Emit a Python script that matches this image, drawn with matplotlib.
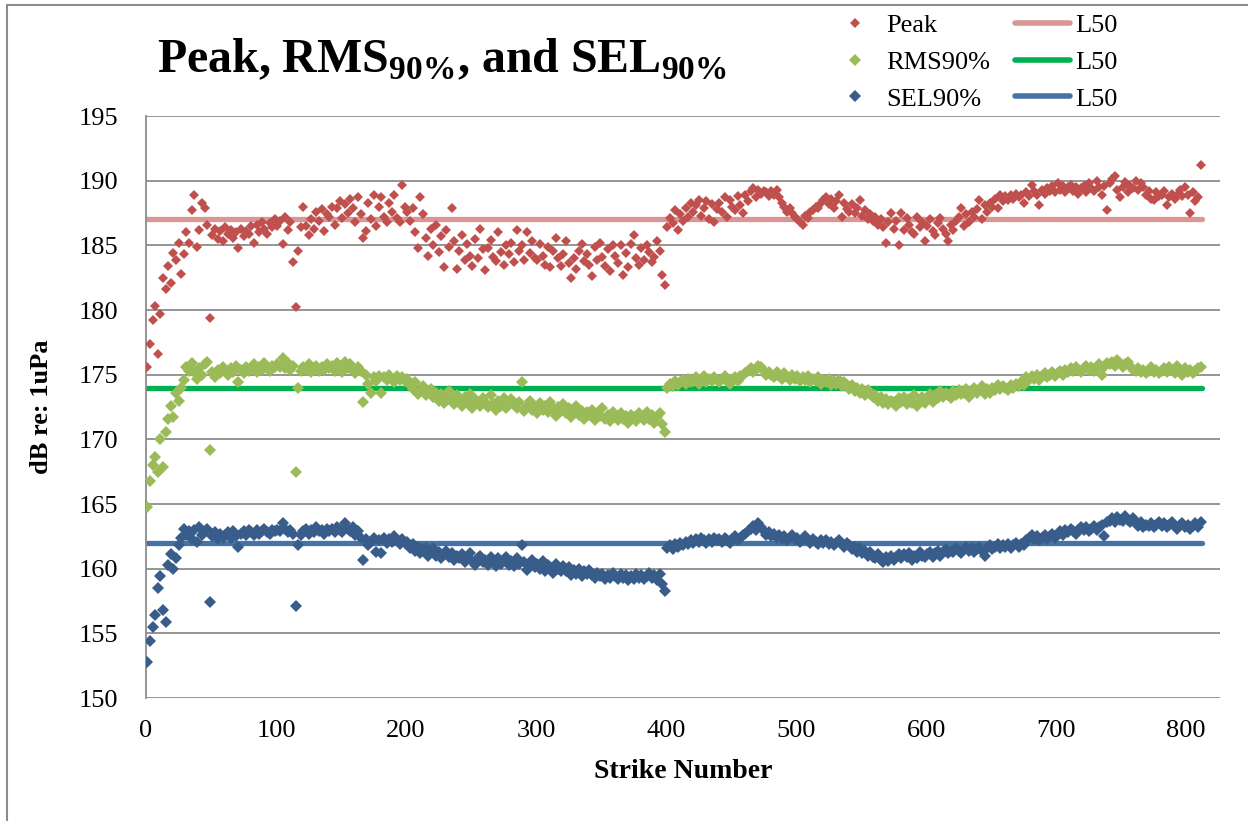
import numpy as np
import matplotlib
matplotlib.use("Agg")
import matplotlib.pyplot as plt
from matplotlib.lines import Line2D
from matplotlib.patches import Rectangle

plt.rcParams['font.family'] = ['Liberation Serif', 'DejaVu Serif']
plt.rcParams['mathtext.fontset'] = 'custom'
plt.rcParams['mathtext.rm'] = 'Liberation Serif:bold'
plt.rcParams['mathtext.bf'] = 'Liberation Serif:bold'

# strike numbers (every other strike)
strikes = np.arange(1, 812, 2)

peak = [
    175.6, 177.4, 179.2, 180.3, 176.6, 179.7, 182.5, 181.6, 183.4, 182.1,
    184.4, 183.9, 185.2, 182.8, 184.3, 186.0, 185.2, 187.7, 188.9, 184.9,
    186.2, 188.3, 187.9, 186.6, 179.4, 185.8, 186.3, 185.5, 186.1, 185.3,
    186.4, 185.9, 186.2, 185.6, 186.0, 184.8, 186.3, 185.7, 186.1, 185.9,
    186.5, 185.2, 186.6, 186.0, 186.8, 186.3, 185.9, 186.7, 186.4, 187.0,
    186.5, 186.9, 185.1, 187.2, 186.2, 186.8, 183.7, 180.2, 184.6, 186.4,
    188.0, 186.5, 185.8, 187.0, 186.3, 187.6, 186.9, 187.8, 186.1, 187.4,
    187.2, 188.0, 186.6, 187.9, 188.4, 187.1, 188.2, 187.5, 188.6, 187.9,
    186.8, 188.7, 187.4, 185.6, 186.1, 188.3, 187.0, 188.9, 186.5, 188.0,
    188.7, 187.2, 186.8, 188.3, 187.6, 188.9, 187.1, 186.8, 189.7, 188.0,
    187.6, 186.9, 187.9, 186.0, 184.8, 188.7, 187.4, 185.6, 184.2, 186.3,
    185.0, 186.6, 184.5, 185.7, 183.3, 186.2, 184.9, 187.9, 185.3, 183.2,
    184.6, 185.8, 183.9, 185.1, 184.2, 183.4, 185.5, 184.0, 186.3, 184.7,
    183.1, 184.8, 185.4, 184.1, 183.8, 186.0, 184.5, 183.5, 185.0, 184.3,
    185.2, 183.7, 186.2, 184.6, 185.0, 183.9, 186.0, 184.4, 185.3, 184.0,
    183.9, 185.1, 184.2, 183.5, 184.9, 183.3, 184.6, 185.6, 184.0, 183.4,
    184.3, 185.3, 183.6, 182.5, 184.0, 183.2, 184.6, 185.1, 183.8, 184.3,
    183.5, 182.6, 184.9, 183.9, 185.2, 184.1, 183.4, 184.7, 183.0, 185.0,
    184.2, 183.6, 185.0, 182.7, 184.4, 183.3, 185.1, 185.8, 184.0, 183.5,
    184.8, 183.9, 185.0, 184.5, 183.7, 184.1, 185.3, 184.6, 182.7, 181.9,
    186.4, 187.1, 186.7, 187.7, 186.2, 187.4, 186.9, 187.9, 187.2, 188.3,
    187.6, 188.1, 188.5, 187.3, 187.9, 188.4, 187.0, 188.2, 186.8, 187.8,
    188.3, 187.6, 188.7, 187.2, 188.5, 188.0, 187.7, 188.8, 188.1, 187.5,
    188.9, 188.4, 189.2, 189.4, 188.7, 189.3, 189.0, 189.2, 189.1, 188.8,
    189.2, 188.9, 189.3, 188.7, 188.3, 188.0, 187.6, 187.9, 187.5, 187.2,
    187.0, 186.8, 186.6, 187.3, 187.1, 187.6, 187.7, 188.0, 187.9, 188.3,
    188.5, 188.7, 188.2, 188.6, 187.9, 188.4, 188.9, 187.2, 188.3, 187.8,
    187.6, 188.2, 187.5, 187.9, 188.5, 187.3, 187.7, 187.0, 187.4, 186.9,
    187.2, 186.6, 187.0, 186.4, 185.2, 186.8, 187.5, 186.3, 186.9, 185.0,
    187.5, 186.2, 187.1, 186.6, 186.0, 185.9, 187.2, 186.4, 186.8, 185.3,
    186.5, 187.0, 186.1, 185.8, 186.7, 187.1, 186.3, 185.9, 185.3, 186.6,
    186.2, 186.9, 187.2, 187.9, 186.5, 187.4, 186.8, 187.6, 187.2, 187.8,
    188.5, 187.0, 188.1, 187.6, 188.3, 188.0, 188.6, 187.9, 188.9, 188.4,
    188.8, 188.5, 188.9, 188.6, 189.0, 188.7, 188.9, 188.3, 189.1, 188.8,
    189.7, 189.2, 188.9, 188.1, 189.3, 189.0, 189.4, 189.2, 189.6, 189.1,
    189.8, 189.3, 189.6, 189.1, 189.5, 189.7, 189.2, 189.5, 189.0, 189.4,
    189.6, 189.1, 189.8, 189.4, 189.2, 190.0, 189.5, 188.9, 189.6, 187.7,
    189.8, 190.1, 190.4, 189.3, 188.7, 189.5, 189.9, 189.1, 189.6, 189.4,
    190.0, 189.3, 189.8, 189.5, 188.9, 189.2, 188.6, 188.5, 189.1, 188.8,
    188.9, 189.2, 188.1, 188.7, 189.0, 188.6, 188.9, 189.3, 188.8, 189.5,
    188.9, 187.5, 189.1, 188.4, 188.7, 191.2,
]

rms90 = [
    164.8, 166.8, 168.0, 168.6, 167.5, 170.0, 167.9, 170.6, 171.6, 172.6,
    171.7, 173.6, 173.0, 174.0, 174.6, 175.6, 175.3, 175.9, 175.2, 174.7,
    175.5, 175.0, 175.8, 176.0, 169.2, 175.2, 174.8, 175.4, 175.1, 175.6,
    175.3, 175.0, 175.5, 175.2, 175.7, 174.4, 175.4, 175.1, 175.6, 175.3,
    175.5, 175.8, 175.2, 175.6, 175.4, 175.9, 175.5, 175.3, 175.7, 175.6,
    175.8, 175.6, 176.3, 175.5, 175.9, 175.4, 175.7, 167.5, 174.0, 175.3,
    175.6, 175.4, 175.8, 175.2, 175.5, 175.7, 175.3, 175.6, 175.4, 175.8,
    175.5, 175.7, 175.3, 175.9, 175.6, 175.2, 176.0, 175.5, 175.8, 175.4,
    175.1, 175.6, 175.3, 172.9, 175.0, 174.3, 173.6, 174.8, 174.5, 174.9,
    173.6, 174.8, 174.6, 175.0, 174.7, 174.4, 174.9, 174.6, 174.8, 174.5,
    174.7, 174.2, 173.9, 174.4, 173.5, 173.8, 174.1, 173.4, 173.7, 173.9,
    173.3, 173.6, 173.0, 173.5, 172.8, 173.3, 173.7, 173.1, 172.7, 173.4,
    173.0, 172.6, 173.3, 172.9, 173.5, 172.4, 173.1, 172.8, 172.6, 173.2,
    172.9, 172.5, 173.4, 172.7, 172.3, 173.0, 172.6, 173.2, 172.4, 172.9,
    173.1, 172.7, 172.4, 172.9, 174.4, 172.2, 172.6, 173.0, 172.3, 172.5,
    172.0, 172.8, 172.3, 172.6, 172.1, 172.9, 172.4, 171.8, 172.5, 172.2,
    172.7, 172.0, 172.4, 171.7, 172.3, 172.6, 171.9, 172.2, 171.6, 172.1,
    171.9, 172.3, 171.5, 172.0, 171.8, 172.4, 171.6, 171.9, 171.4, 172.1,
    171.7, 171.5, 172.0, 171.6, 171.8, 171.3, 171.9, 171.7, 171.4, 172.0,
    171.8, 171.5, 172.1, 171.6, 171.9, 171.3, 171.7, 172.0, 171.2, 170.6,
    174.0, 174.3, 174.1, 174.5, 174.2, 174.4, 174.6, 174.3, 174.7, 174.4,
    174.5, 174.8, 174.3, 174.6, 174.9, 174.4, 174.7, 174.5, 174.8, 174.6,
    174.4, 174.7, 174.9, 174.5, 174.3, 174.6, 174.8, 174.5, 174.9, 175.0,
    175.1, 175.3, 175.5, 175.2, 175.4, 175.7, 175.6, 175.3, 175.0, 175.2,
    175.0, 174.8, 175.2, 174.9, 174.7, 175.1, 174.8, 174.6, 175.0, 174.7,
    174.9, 174.5, 174.8, 174.6, 174.9, 174.4, 174.7, 174.5, 174.8, 174.3,
    174.6, 174.4, 174.7, 174.2, 174.5, 174.3, 174.6, 174.1, 174.4, 174.2,
    173.9, 174.2, 173.7, 174.0, 173.6, 173.9, 173.4, 173.8, 173.5, 173.3,
    173.4, 173.0, 173.3, 172.8, 173.1, 172.7, 173.0, 172.9, 172.6, 173.2,
    172.9, 173.3, 172.7, 173.1, 172.8, 173.4, 172.6, 173.0, 173.3, 172.8,
    173.1, 173.5, 172.9, 173.4, 173.2, 173.7, 173.3, 173.6, 173.4, 173.2,
    173.7, 173.4, 173.8, 173.5, 173.6, 173.9, 173.3, 173.7, 174.0, 173.6,
    173.8, 174.1, 173.5, 173.9, 173.6, 174.0, 173.8, 174.2, 173.9, 174.1,
    174.0, 173.8, 174.2, 174.0, 174.3, 174.1, 174.4, 174.2, 174.8, 174.6,
    174.9, 174.7, 175.0, 174.6, 174.9, 175.1, 174.8, 175.0, 175.2, 174.9,
    175.1, 175.3, 175.0, 175.4, 175.2, 175.5, 175.3, 175.6, 175.4, 175.2,
    175.5, 175.7, 175.4, 175.6, 175.3, 175.5, 175.8, 175.0, 175.6, 175.9,
    175.8, 176.0, 175.7, 176.1, 175.9, 175.6, 175.8, 176.0, 175.7, 175.4,
    175.3, 175.5, 175.2, 175.4, 175.1, 175.3, 175.6, 175.2, 175.4, 175.1,
    175.3, 175.5, 175.2, 175.6, 175.4, 175.1, 175.7, 175.3, 175.0, 175.5,
    175.2, 175.4, 175.1, 175.3, 175.5, 175.6,
]

sel90 = [
    152.8, 154.4, 155.5, 156.4, 158.5, 159.4, 156.8, 155.9, 160.3, 161.1,
    160.0, 160.8, 161.8, 162.4, 163.1, 162.6, 162.9, 162.3, 163.0, 162.1,
    163.2, 162.6, 162.9, 163.1, 157.4, 162.5, 162.8, 162.3, 162.7, 162.4,
    162.6, 162.8, 162.4, 162.9, 162.5, 161.7, 162.7, 162.9, 162.6, 163.0,
    162.8, 162.6, 163.0, 162.7, 162.9, 163.1, 162.8, 162.7, 163.0, 162.9,
    163.0, 162.9, 163.5, 163.1, 162.8, 163.0, 162.7, 157.1, 161.8, 162.6,
    162.9, 163.1, 162.7, 163.0, 162.8, 163.2, 162.9, 163.0, 162.7, 163.1,
    162.9, 163.1, 162.8, 163.2, 163.0, 162.8, 163.5, 163.1, 162.9, 163.2,
    162.6, 162.9, 162.4, 160.7, 162.3, 161.8, 162.1, 162.4, 161.3, 162.2,
    161.2, 162.4, 162.0, 162.3, 162.1, 162.5, 162.2, 161.9, 162.3, 162.0,
    162.1, 161.6, 161.9, 161.4, 161.7, 161.2, 161.5, 161.6, 161.0, 161.3,
    161.6, 161.0, 161.3, 160.8, 161.1, 161.4, 160.9, 161.2, 160.7, 161.0,
    160.8, 161.1, 160.5, 160.9, 161.2, 160.6, 160.3, 160.8, 161.0, 160.5,
    160.7, 160.3, 160.9, 160.5, 160.2, 160.8, 160.4, 160.6, 160.9, 160.3,
    160.6, 160.2, 160.8, 160.4, 161.8, 160.5, 159.9, 160.3, 160.7, 160.1,
    160.4, 160.0, 160.6, 159.8, 160.3, 160.1, 159.7, 160.4, 160.0, 159.8,
    160.2, 159.8, 160.1, 159.5, 159.9, 159.6, 160.0, 159.4, 159.8, 159.6,
    159.9, 159.5, 159.3, 159.7, 159.4, 159.6, 159.2, 159.5, 159.3, 159.7,
    159.4, 159.2, 159.6, 159.3, 159.5, 159.1, 159.4, 159.2, 159.6, 159.3,
    159.5, 159.2, 159.4, 159.7, 159.3, 159.5, 159.1, 159.6, 158.8, 158.3,
    161.6, 161.8, 161.5, 161.9, 161.7, 162.0, 161.8, 162.1, 161.9, 162.2,
    162.0, 162.3, 162.1, 162.4, 162.2, 162.0, 162.3, 162.1, 162.4, 162.2,
    162.3, 162.1, 162.4, 162.2, 162.0, 162.3, 162.5, 162.2, 162.4, 162.6,
    162.7, 162.9, 163.1, 163.3, 163.0, 163.5, 163.2, 162.9, 162.6, 162.8,
    162.5, 162.7, 162.4, 162.6, 162.3, 162.5, 162.2, 162.4, 162.6, 162.3,
    162.4, 162.1, 162.3, 162.5, 162.2, 162.0, 162.3, 162.1, 161.9, 162.2,
    162.0, 162.2, 161.9, 162.1, 161.8, 162.0, 162.2, 161.9, 161.7, 162.0,
    161.8, 161.5, 161.7, 161.3, 161.6, 161.2, 161.4, 161.0, 161.3, 160.9,
    160.8, 161.1, 160.7, 160.5, 160.9, 160.6, 161.0, 160.7, 160.9, 161.1,
    160.8, 161.1, 160.9, 161.2, 160.7, 161.0, 160.8, 161.3, 161.0, 160.9,
    161.1, 161.3, 160.9, 161.2, 161.4, 161.0, 161.3, 161.5, 161.2, 161.4,
    161.3, 161.6, 161.4, 161.2, 161.5, 161.7, 161.4, 161.6, 161.3, 161.5,
    161.7, 161.4, 161.0, 161.6, 161.8, 161.5, 161.7, 161.9, 161.6, 161.8,
    161.7, 161.9, 161.6, 161.8, 162.0, 161.7, 161.9, 161.8, 162.2, 162.4,
    162.6, 162.3, 162.5, 162.2, 162.4, 162.6, 162.3, 162.5, 162.7, 162.4,
    162.7, 162.9, 162.6, 163.0, 162.8, 163.1, 162.9, 162.7, 163.0, 163.2,
    163.0, 163.2, 162.9, 163.1, 163.3, 163.0, 163.2, 163.4, 162.5, 163.6,
    163.7, 163.9, 163.6, 164.0, 163.8, 163.7, 164.1, 163.8, 163.6, 163.9,
    163.5, 163.3, 163.6, 163.2, 163.4, 163.3, 163.5, 163.2, 163.4, 163.6,
    163.3, 163.5, 163.2, 163.4, 163.6, 163.3, 163.1, 163.4, 163.5, 163.2,
    163.4, 163.1, 163.3, 163.5, 163.2, 163.6,
]

# L50 levels
l50_peak = 187
l50_rms = 174
l50_sel = 162
l50_span = [0, 812]

PEAK_C, RMS_C, SEL_C = "#C0504D", "#9BBB59", "#385D8A"
L50_C = ["#D99694", "#00B050", "#4672A8"]

fig = plt.figure(figsize=(12.48, 8.21), dpi=100)
ax = fig.add_axes([0.117, 0.1498, 0.8606, 0.7089])

ax.plot(l50_span, [l50_peak] * 2, color=L50_C[0], lw=3.8, solid_capstyle="round", zorder=2)
ax.plot(l50_span, [l50_rms] * 2, color=L50_C[1], lw=3.8, solid_capstyle="round", zorder=2)
ax.plot(l50_span, [l50_sel] * 2, color=L50_C[2], lw=3.8, solid_capstyle="round", zorder=2)

ax.plot(strikes, peak, ls="none", marker="D", ms=5.4, mew=0, color=PEAK_C, zorder=3)
ax.plot(strikes, rms90, ls="none", marker="D", ms=5.8, mew=0, color=RMS_C, zorder=3)
ax.plot(strikes, sel90, ls="none", marker="D", ms=6.6, mew=0, color=SEL_C, zorder=3)

ax.set_xlim(0, 826)
ax.set_ylim(150, 195)
ax.set_xticks(range(0, 801, 100))
ax.set_yticks(range(150, 196, 5))
ax.tick_params(length=0, labelsize=19)
ax.tick_params(axis="x", pad=16)
ax.tick_params(axis="y", pad=20)
ax.grid(axis="y", color="#8C8C8C", lw=1.3)
ax.set_axisbelow(True)
for s in ["top", "right", "bottom"]:
    ax.spines[s].set_visible(False)
ax.spines["left"].set_color("#8C8C8C")
ax.spines["left"].set_linewidth(1.3)

ax.set_xlabel("Strike Number", fontsize=20, fontweight="bold")
ax.xaxis.set_label_coords(0.5, -0.105)
ax.set_ylabel("dB re: 1uPa", fontsize=19, fontweight="bold")
ax.yaxis.set_label_coords(-0.087, 0.5)

fig.text(157 / 1248, 1 - 72 / 821,
         r"Peak, RMS$_{90\%}$, and SEL$_{90\%}$",
         fontsize=34.5, fontweight="bold", va="baseline", ha="left")

# legend: markers in one column, L50 lines in another
mk = [Line2D([], [], ls="none", marker="D", ms=m, mew=0, color=c)
      for c, m in [(PEAK_C, 5.4), (RMS_C, 5.8), (SEL_C, 6.6)]]
fig.legend(mk, ["Peak", "RMS90%", "SEL90%"], loc="upper left",
           bbox_to_anchor=(818 / 1248, 1 + 10 / 821), frameon=False,
           fontsize=19, handlelength=1.0, handletextpad=0.68, labelspacing=0.5)
ln = [Line2D([], [], color=c, lw=4, solid_capstyle="round") for c in L50_C]
fig.legend(ln, ["L50", "L50", "L50"], loc="upper left",
           bbox_to_anchor=(991 / 1248, 1 + 10 / 821), frameon=False,
           fontsize=19, handlelength=2.08, handletextpad=0.2, labelspacing=0.5)

# chart border
fig.patches.append(Rectangle((7 / 1248, -0.05), 1.2, 1 - 5 / 821 + 0.05,
                             transform=fig.transFigure, fill=False,
                             edgecolor="#8C8C8C", lw=1.5))

fig.savefig("out.png", dpi=100)
